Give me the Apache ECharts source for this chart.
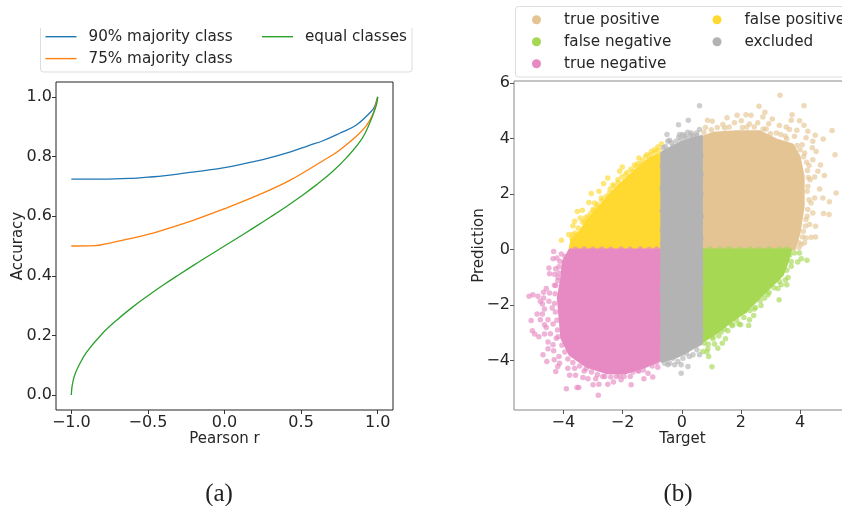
<!DOCTYPE html>
<html><head><meta charset="utf-8">
<script src="https://cdn.jsdelivr.net/npm/echarts@6/dist/echarts.min.js"></script>
<style>html,body{margin:0;padding:0;background:#fff}#c{width:842px;height:506px}</style></head>
<body><div id="c"></div>
<script>
// ---------- panel (a): accuracy vs Pearson r ----------
const majority90 = [[-1,.724],[-.8,.724],[-.6,.727],[-.5,.731],[-.4,.735],[-.25,.745],[-.1,.755],[0,.763],[.1,.773],[.25,.79],[.426,.815],[.55,.837],[.643,.853],[.752,.878],[.861,.906],[.959,.952],[.98,.968],[.997,.995],[1,1]];
const majority75 = [[-1,.5],[-.85,.501],[-.75,.51],[-.64,.522],[-.5,.539],[-.423,.55],[-.205,.586],[0,.625],[.23,.673],[.426,.72],[.643,.786],[.708,.806],[.752,.822],[.861,.868],[.926,.904],[.969,.943],[.995,.988],[1,1]];
const equalClasses = [[-1,0],[-.995,.03],[-.98,.064],[-.95,.1],[-.9,.144],[-.8,.205],[-.7,.253],[-.6,.295],[-.5,.333],[-.4,.369],[-.3,.403],[-.2,.436],[-.1,.468],[0,.5],[.1,.532],[.2,.564],[.3,.597],[.4,.631],[.5,.667],[.6,.705],[.7,.747],[.8,.798],[.9,.862],[.95,.915],[.98,.955],[.995,.98],[1,1]];
const pearsonTicks = [-1,-.5,0,.5,1];
const accuracyTicks = [0,.2,.4,.6,.8,1];

// ---------- panel (b): prediction vs target ----------
const targetTicks = [-4,-2,0,2,4];
const predictionTicks = [-4,-2,0,2,4,6];
// outlines of the fully saturated areas
const truePositiveArea = [[.68,0],[.68,4.05],[1.05,4.21],[1.84,4.27],[2.63,4.27],[3.19,3.97],[3.75,3.79],[3.98,3.36],[4.12,2.64],[4.12,1.56],[3.98,.6],[3.81,0]];
const falseNegativeArea = [[.68,0],[3.7,0],[3.59,-.43],[3.42,-.91],[2.97,-1.39],[2.57,-1.81],[2.18,-2.23],[1.61,-2.65],[1.17,-3.02],[.68,-3.35]];
const trueNegativeArea = [[-.69,0],[-3.79,0],[-4.02,-.43],[-4.07,-1.03],[-4.19,-1.75],[-4.13,-2.47],[-4.07,-3.2],[-3.79,-3.8],[-3.23,-4.22],[-2.55,-4.46],[-1.88,-4.46],[-1.2,-4.22],[-.69,-3.98]];
const falsePositiveArea = [[-3.79,0],[-3.73,.35],[-3.45,.65],[-3.17,1.08],[-2.78,1.56],[-2.38,2.04],[-1.99,2.46],[-1.54,2.88],[-1.09,3.3],[-.69,3.48],[-.69,0]];
const excludedArea = [[-.69,3.5],[-.5,3.62],[-.3,3.72],[0,3.88],[.3,4],[.68,4.1],[.68,-3.4],[.4,-3.55],[.1,-3.75],[-.2,-3.9],[-.5,-4],[-.69,-4.05]];
// individually visible points around those areas
const truePositivePoints = [[3.32,5.57],[2.61,5.17],[4.13,5.19],[2.81,4.95],[3.73,4.86],[1.53,4.75],[1.87,4.84],[2.17,4.86],[2.34,4.84],[2.74,4.78],[3.06,4.71],[.87,4.66],[1.03,4.63],[2.01,4.65],[3.7,4.66],[3.98,4.65],[1.39,4.51],[1.78,4.57],[2.29,4.53],[2.57,4.57],[2.94,4.54],[3.3,4.47],[3.53,4.42],[4.13,4.48],[3.64,4.33],[3.89,4.3],[4.26,4.27],[5.08,4.29],[4.51,4.12],[4.78,3.99],[4.2,4.03],[4.43,3.91],[3.81,4.09],[5.18,3.42],[4.41,3.67],[4.54,3.54],[4.07,3.78],[4.15,3.48],[4.69,3.05],[4.43,3.24],[4.3,3.03],[4.6,2.82],[4.82,2.67],[4.49,2.62],[4.34,2.52],[4.66,2.18],[4.26,2.28],[5.22,2.04],[4.77,1.86],[4.49,1.86],[4.99,1.72],[4.37,1.68],[4.26,1.44],[4.79,1.3],[4.98,1.26],[4.43,1.32],[4.2,1.08],[4.32,.9],[4.52,.84],[4.11,.66],[4.37,.44],[4.52,.45],[4.2,.42],[4.04,.18],[3.96,.06],[4.15,.24],[.8,4.4],[1.2,4.4],[1.6,4.42],[2.05,4.4],[2.45,4.42],[2.85,4.35],[3.2,4.2],[3.5,4.1],[3.9,3.75],[4,3.6],[4.12,3.35],[4.22,3.15],[4.25,2.85],[4.28,2.6],[4.24,2.1],[4.3,1.8],[4.24,1.2],[4.18,.85],[4.08,.45],[3.95,.25],[3.55,4],[3.35,4.15],[3,4.18],[2.75,4.35],[2.2,4.42],[1.45,4.38],[1,4.32],[.75,4.22]];
const falseNegativePoints = [[4.23,-.39],[4.04,-.33],[3.92,-.45],[3.81,-.13],[3.98,-.13],[3.7,-.43],[3.59,-1.01],[3.55,-1.27],[3.36,-1.27],[3.25,-1.41],[2.91,-1.63],[2.68,-2.02],[2.49,-2.09],[3.29,-1.81],[2.43,-2.38],[2.29,-2.53],[2.12,-2.23],[2.26,-2.74],[1.99,-2.71],[1.93,-2.69],[1.61,-2.65],[1.56,-2.93],[1.33,-2.98],[1.48,-3.22],[1.37,-3.38],[1.11,-3.41],[1.22,-3.56],[.88,-3.58],[.71,-3.68],[.85,-3.7],[.91,-3.86],[1.02,-4.23],[.77,-3.38],[1.05,-3.22],[1.73,-2.71],[3.65,-.2],[3.7,-.6],[3.55,-.75],[3.5,-1.1],[3.3,-1.15],[3.12,-1.38],[2.95,-1.55],[2.8,-1.75],[2.65,-1.85],[2.45,-2.15],[2.3,-2.2],[2.1,-2.45],[1.85,-2.55],[1.7,-2.75],[1.45,-2.88],[1.25,-3.12],[1.05,-3.15],[.9,-3.42],[.95,.02],[1.3,.01],[1.6,.03],[1.95,.01],[2.3,.02],[2.6,.01],[2.95,.02],[3.3,.01],[3.55,.01]];
const trueNegativePoints = [[-4.33,-.07],[-4.07,-.16],[-4.35,-.33],[-4.22,-.31],[-3.94,-.25],[-4.49,-.67],[-4.26,-.69],[-4.47,-.87],[-4.3,-.89],[-4.15,-.85],[-4.19,-1.13],[-4.3,-1.29],[-4.58,-1.41],[-4.67,-1.54],[-4.47,-1.57],[-5.03,-1.63],[-5.16,-1.69],[-4.86,-1.69],[-4.67,-1.75],[-4.78,-1.87],[-4.49,-1.87],[-4.71,-1.97],[-4.64,-2.15],[-4.38,-2.11],[-4.89,-2.33],[-4.71,-2.33],[-5.09,-2.56],[-4.78,-2.53],[-4.52,-2.53],[-4.64,-2.71],[-4.35,-2.69],[-5.05,-2.93],[-4.58,-2.81],[-4.97,-3.05],[-4.83,-3.15],[-4.64,-3.05],[-4.44,-3.04],[-4.52,-3.34],[-4.24,-3.2],[-4.35,-3.44],[-4.52,-3.58],[-4.33,-3.65],[-4.69,-3.8],[-4.15,-3.86],[-4.56,-4.04],[-4.31,-3.98],[-4.13,-4.1],[-4.19,-4.22],[-4.26,-4.4],[-3.85,-4.28],[-3.79,-4.54],[-3.59,-4.54],[-3.9,-5.02],[-3.54,-4.98],[-3.48,-4.98],[-3.34,-4.62],[-3.17,-4.66],[-3,-4.88],[-2.82,-5.26],[-2.8,-4.86],[-2.91,-4.66],[-2.5,-4.86],[-2.31,-4.78],[-2.05,-4.7],[-1.71,-4.88],[-1.74,-4.58],[-1.28,-4.66],[-.98,-4.6],[-1.48,-4.37],[-1.14,-4.46],[-.81,-4.25],[-2.67,-4.58],[-2.21,-4.58],[-3.62,-4.28],[-3.23,-4.3],[-4.12,-.42],[-4.15,-.62],[-4.18,-1],[-4.26,-1.3],[-4.28,-1.6],[-4.3,-1.95],[-4.27,-2.25],[-4.22,-2.55],[-4.2,-2.9],[-4.18,-3.15],[-4.05,-3.45],[-3.95,-3.7],[-3.85,-3.95],[-3.68,-4.08],[-3.45,-4.2],[-3.3,-4.38],[-3.05,-4.42],[-2.85,-4.52],[-2.6,-4.58],[-2.4,-4.6],[-2.1,-4.55],[-1.95,-4.58],[-1.65,-4.42],[-1.45,-4.38],[-1.3,-4.35],[-1,-4.2],[-.85,-4.08],[-3.6,.01],[-3.3,.02],[-3,.01],[-2.7,.02],[-2.4,.01],[-2.05,.02],[-1.75,.01],[-1.4,.02],[-1.1,.01],[-.85,.02]];
const falsePositivePoints = [[-4.07,.33],[-3.82,.54],[-3.68,.54],[-3.68,.86],[-3.62,1.02],[-3.53,1.37],[-3.36,1.42],[-3.43,1.14],[-3.17,1.2],[-3.14,1.7],[-3.06,2.02],[-2.95,1.68],[-2.87,1.54],[-2.8,2.1],[-2.64,2.38],[-2.5,2.58],[-2.72,1.86],[-2.44,2.04],[-2.16,2.52],[-2.1,2.82],[-2.01,2.98],[-1.9,2.7],[-1.65,2.82],[-1.45,3.3],[-1.22,3.36],[-1.03,3.54],[-.92,3.6],[-.81,3.7],[-.69,3.81],[-1.54,3],[-1.37,3.06],[-2.33,2.34],[-3,1.44],[-3.28,1.02],[-3.72,.42],[-3.6,.6],[-3.5,.78],[-3.35,.98],[-3.25,1.15],[-3.08,1.3],[-2.98,1.4],[-2.85,1.62],[-2.7,1.78],[-2.55,1.92],[-2.42,2.18],[-2.28,2.28],[-2.15,2.42],[-2.02,2.62],[-1.85,2.78],[-1.72,2.9],[-1.6,3.05],[-1.48,3.1],[-1.33,3.22],[-1.18,3.42],[-1.05,3.42],[-.9,3.52],[-.78,3.58]];
const excludedPoints = [[.6,5.19],[.22,4.66],[-.11,4.5],[-.5,4.15],[-.07,4.15],[.04,4.15],[.2,4.23],[.32,4.2],[.6,4.33],[.51,4.11],[-.47,3.91],[-.19,3.91],[.15,4.03],[-.62,3.67],[-.3,3.73],[.38,4.09],[-.41,3.94],[-.02,3.97],[-.02,-4.46],[.21,-4.22],[-.02,-4.16],[-.24,-4.16],[-.47,-4.16],[-.58,-4.1],[-.3,-3.92],[.04,-3.92],[.26,-3.86],[.38,-3.8],[.6,-3.8],[.26,-3.56],[.51,-3.62],[-.13,-4.04],[-.41,-4.1],[.15,-3.74],[-.66,3],[-.67,2.2],[-.66,1.4],[-.66,.7],[-.65,.2],[-.66,-.6],[-.67,-1.4],[-.66,-2.2],[-.66,-3],[-.66,-3.7],[.65,3.4],[.66,2.7],[.65,2],[.66,1.2],[.65,.4],[.65,-.5],[.66,-1.2],[.65,-2.1],[.66,-2.9],[-.55,3.72],[-.35,3.85],[-.1,4.05],[.1,4.1],[.3,4.12],[.5,4.2]];

const FONT = '"DejaVu Sans"';
const INK = '#262626';
// drawing order, bottom to top
const classes = [
  {name:'true positive', color:'#e5c494', area:truePositiveArea, pts:truePositivePoints},
  {name:'false positive', color:'#ffd92f', area:falsePositiveArea, pts:falsePositivePoints},
  {name:'false negative', color:'#a6d854', area:falseNegativeArea, pts:falseNegativePoints},
  {name:'true negative', color:'#e78ac3', area:trueNegativeArea, pts:trueNegativePoints},
  {name:'excluded', color:'#b3b3b3', area:excludedArea, pts:excludedPoints}
];
const minus = s => s.replace('-', '\u2212');

function axis(base, labelFmt, ticks, lineColor, margin, pad){
  return Object.assign({
    type:'value', nameLocation:'middle', nameMoveOverlap:false,
    nameTextStyle:{fontFamily:FONT,fontSize:15,color:INK},
    splitLine:{show:false},
    axisLine:{show:false,onZero:false},
    axisTick:{show:true,length:4,lineStyle:{color:lineColor,width:1},customValues:ticks},
    axisLabel:{fontFamily:FONT,fontSize:16,color:INK,margin:margin,padding:pad,customValues:ticks,
      showMinLabel:true,showMaxLabel:true,formatter:v=>minus(labelFmt(v))}
  }, base);
}

const curve = (name,data,color)=>({name,type:'line',xAxisIndex:0,yAxisIndex:0,data,smooth:.4,showSymbol:false,symbol:'none',silent:true,lineStyle:{color,width:1.3},itemStyle:{color}});
const series = [
  curve('90% majority class',majority90,'#1f77b4'),
  curve('75% majority class',majority75,'#ff7f0e'),
  curve('equal classes',equalClasses,'#2ca02c')
];
classes.forEach((c,i)=>{
  series.push({name:c.name,type:'scatter',xAxisIndex:1,yAxisIndex:1,data:c.pts,symbol:'circle',symbolSize:5.5,silent:true,z:3+i,
    itemStyle:{color:c.color,opacity:.65}});
  series.push({name:c.name+' area',type:'custom',xAxisIndex:1,yAxisIndex:1,data:c.area,silent:true,z:3+i,coordinateSystem:'cartesian2d',
    encode:{x:0,y:1},
    renderItem:(p,api)=> p.dataIndex!==0 ? null : {type:'polygon',
      shape:{points:c.area.map(q=>api.coord(q))},
      style:{fill:c.color,stroke:c.color,lineWidth:2,lineJoin:'round'}}});
});

const chart = echarts.init(document.getElementById('c'),null,{renderer:'canvas'});
chart.setOption({
  animation:false,backgroundColor:'#fff',
  grid:[
    {left:56,top:82,width:337,height:328,show:true,borderColor:'#222',borderWidth:1,containLabel:false,outerBoundsMode:'none'},
    {left:514,top:81,width:337,height:329,show:true,borderColor:'#888',borderWidth:1,containLabel:false,outerBoundsMode:'none'}
  ],
  xAxis:[
    axis({gridIndex:0,min:-1.1,max:1.1,name:'Pearson r',nameGap:22},v=>v.toFixed(1),pearsonTicks,'#333',5,0),
    axis({gridIndex:1,min:-5.67,max:5.72,name:'Target',nameGap:22},v=>String(v),targetTicks,'#555',5,0)
  ],
  yAxis:[
    axis({gridIndex:0,min:-.05,max:1.05,name:'Accuracy',nameGap:30},v=>v.toFixed(1),accuracyTicks,'#333',4,[3,0,0,0]),
    axis({gridIndex:1,min:-5.79,max:6.08,name:'Prediction',nameGap:27},v=>String(v),predictionTicks,'#555',4,[3,0,0,0])
  ],
  title:[
    {text:'(a)',left:219,top:482,textAlign:'center',padding:0,textStyle:{fontFamily:'"Liberation Serif"',fontSize:25,fontWeight:'normal',color:'#222'}},
    {text:'(b)',left:678,top:482,textAlign:'center',padding:0,textStyle:{fontFamily:'"Liberation Serif"',fontSize:25,fontWeight:'normal',color:'#222'}}
  ],
  legend:[
    {data:['90% majority class','75% majority class'],orient:'vertical',left:45.5,top:29.2,padding:0,icon:'rect',itemWidth:31,itemHeight:1.4,itemGap:6.9,selectedMode:false,z:20,
      textStyle:{fontFamily:FONT,fontSize:15.2,color:INK,padding:[0,0,0,7]}},
    {data:['equal classes'],orient:'vertical',left:262,top:29.2,padding:0,icon:'rect',itemWidth:31,itemHeight:1.4,selectedMode:false,z:20,
      textStyle:{fontFamily:FONT,fontSize:15.2,color:INK,padding:[0,0,0,7]}},
    {data:['true positive','false negative','true negative'],orient:'vertical',left:532,top:12.3,padding:0,icon:'circle',itemWidth:9,itemHeight:9,itemGap:7,selectedMode:false,z:20,itemStyle:{opacity:1},
      textStyle:{fontFamily:FONT,fontSize:15.2,color:INK,padding:[0,0,0,18]}},
    {data:['false positive','excluded'],orient:'vertical',left:712.5,top:12.3,padding:0,icon:'circle',itemWidth:9,itemHeight:9,itemGap:7,selectedMode:false,z:20,itemStyle:{opacity:1},
      textStyle:{fontFamily:FONT,fontSize:15.2,color:INK,padding:[0,0,0,18]}}
  ],
  graphic:[
    {type:'rect',z:1,silent:true,shape:{x:40.5,y:18,width:371.5,height:54,r:3},style:{fill:'#fff',stroke:'#ddd',lineWidth:1}},
    {type:'rect',z:2,silent:true,shape:{x:30,y:0,width:400,height:28},style:{fill:'#fff'}},
    {type:'rect',z:1,silent:true,shape:{x:515.5,y:6.5,width:345,height:70.5,r:3},style:{fill:'#fff',stroke:'#ddd',lineWidth:1}}
  ],
  series
});
</script></body></html>
